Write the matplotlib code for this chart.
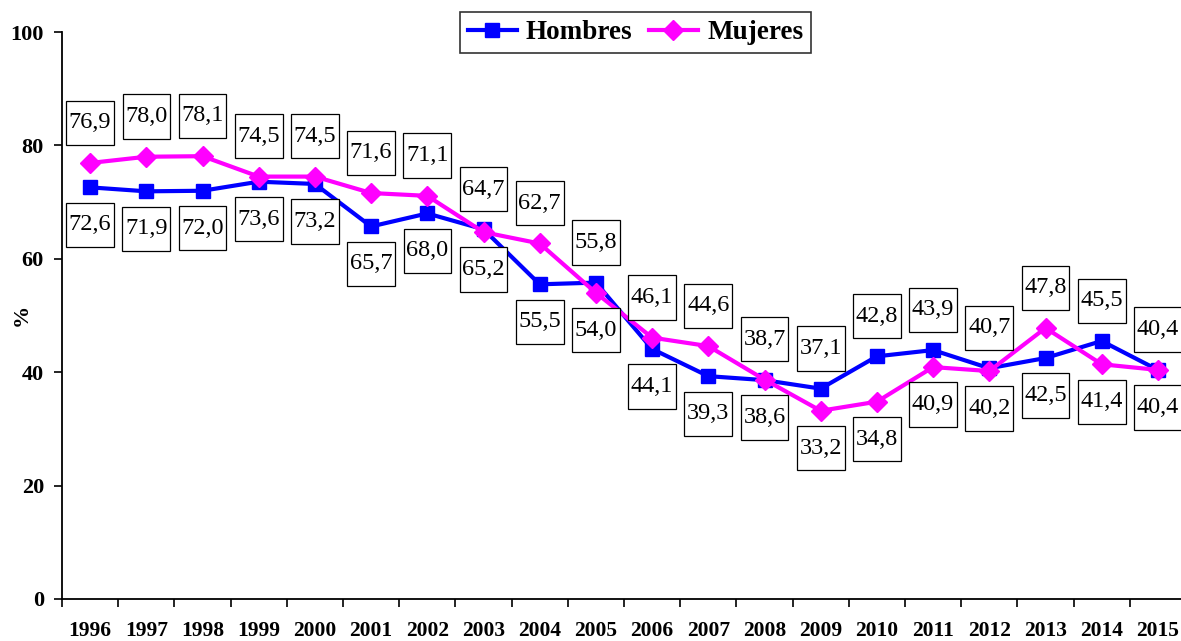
import matplotlib
matplotlib.use("Agg")
import matplotlib.pyplot as plt
from matplotlib.path import Path
from matplotlib.ticker import FixedLocator, NullFormatter

years = ["1996", "1997", "1998", "1999", "2000", "2001", "2002", "2003", "2004", "2005",
         "2006", "2007", "2008", "2009", "2010", "2011", "2012", "2013", "2014", "2015"]
hombres = [72.6, 71.9, 72.0, 73.6, 73.2, 65.7, 68.0, 65.2, 55.5, 55.8,
           44.1, 39.3, 38.6, 37.1, 42.8, 43.9, 40.7, 42.5, 45.5, 40.4]
mujeres = [76.9, 78.0, 78.1, 74.5, 74.5, 71.6, 71.1, 64.7, 62.7, 54.0,
           46.1, 44.6, 38.7, 33.2, 34.8, 40.9, 40.2, 47.8, 41.4, 40.4]
y_ticks = [0, 20, 40, 60, 80, 100]

# layout: which series' label sits above the pair (True = Mujeres on top)
mujeres_on_top = [True, True, True, True, True, True, True, True, True, False,
                  True, True, True, False, False, False, False, True, False, True]

plt.rcParams['font.family'] = ['Liberation Serif', 'DejaVu Serif']

BLUE = "#0000FF"
MAGENTA = "#FF00FF"

fig = plt.figure(figsize=(11.81, 6.41), dpi=100)
ax = fig.add_axes([62 / 1181, 42 / 641, 1124 / 1181, 567 / 641])

x = list(range(len(years)))
lh, = ax.plot(x, hombres, color=BLUE, lw=3, marker='s', ms=10.5, mec=BLUE, mfc=BLUE,
              label='Hombres', zorder=3, clip_on=False)
lm, = ax.plot(x, mujeres, color=MAGENTA, lw=3, marker='D', ms=10, mec=MAGENTA, mfc=MAGENTA,
              label='Mujeres', zorder=4, clip_on=False)


def label_box(x0, y0, width, height, mutation_size):
    px = 0.11 * mutation_size
    py = 0.48 * mutation_size
    xa, ya = x0 - px, y0 - py
    xb, yb = x0 + width + px, y0 + height + py
    return Path([(xa, ya), (xb, ya), (xb, yb), (xa, yb), (xa, ya)], closed=True)


def fmt(v):
    return f"{v:.1f}".replace(".", ",")


for i in x:
    if mujeres_on_top[i]:
        top, bot = mujeres[i], hombres[i]
    else:
        top, bot = hombres[i], mujeres[i]
    for val, yref, off in ((top, max(top, bot), 29), (bot, min(top, bot), -27)):
        ax.annotate(fmt(val), xy=(i, yref), xytext=(0, off), textcoords='offset points',
                    ha='center', va='center', fontsize=17.5, color='black',
                    bbox=dict(boxstyle=label_box, fc='white', ec='black', lw=0.9),
                    zorder=6, annotation_clip=False)

ax.set_xlim(-0.5, len(years) - 0.5)
ax.set_ylim(0, 100)
ax.set_yticks(y_ticks)
ax.set_yticklabels([str(t) for t in y_ticks], fontsize=16, fontweight='bold')
ax.xaxis.set_major_locator(FixedLocator([i - 0.5 for i in range(len(years) + 1)]))
ax.xaxis.set_major_formatter(NullFormatter())
ax.xaxis.set_minor_locator(FixedLocator(x))
ax.set_xticklabels(years, minor=True, fontsize=15.5, fontweight='bold')
ax.tick_params(axis='x', which='minor', length=0, pad=16)
ax.tick_params(axis='x', which='major', length=6, width=1.2, direction='out')
ax.tick_params(axis='y', length=6, width=1.2, direction='out', pad=7)
for s in ('top', 'right'):
    ax.spines[s].set_visible(False)
for s in ('left', 'bottom'):
    ax.spines[s].set_linewidth(1.3)

ax.set_ylabel('%', fontsize=16, fontweight='bold', rotation=90)
ax.yaxis.set_label_coords((32 - 62) / 1124, (599 - 315) / 567)

leg = fig.legend(handles=[lh, lm], loc='center', bbox_to_anchor=(635.5 / 1181, 1 - 32.5 / 641),
                 ncol=2, frameon=True, fancybox=False, edgecolor='black',
                 prop={'weight': 'bold', 'size': 19.5}, handlelength=1.8, handletextpad=0.35,
                 columnspacing=0.6, borderpad=0.3, borderaxespad=0)
leg.get_frame().set_linewidth(1.2)

fig.savefig('out.png', dpi=100)
